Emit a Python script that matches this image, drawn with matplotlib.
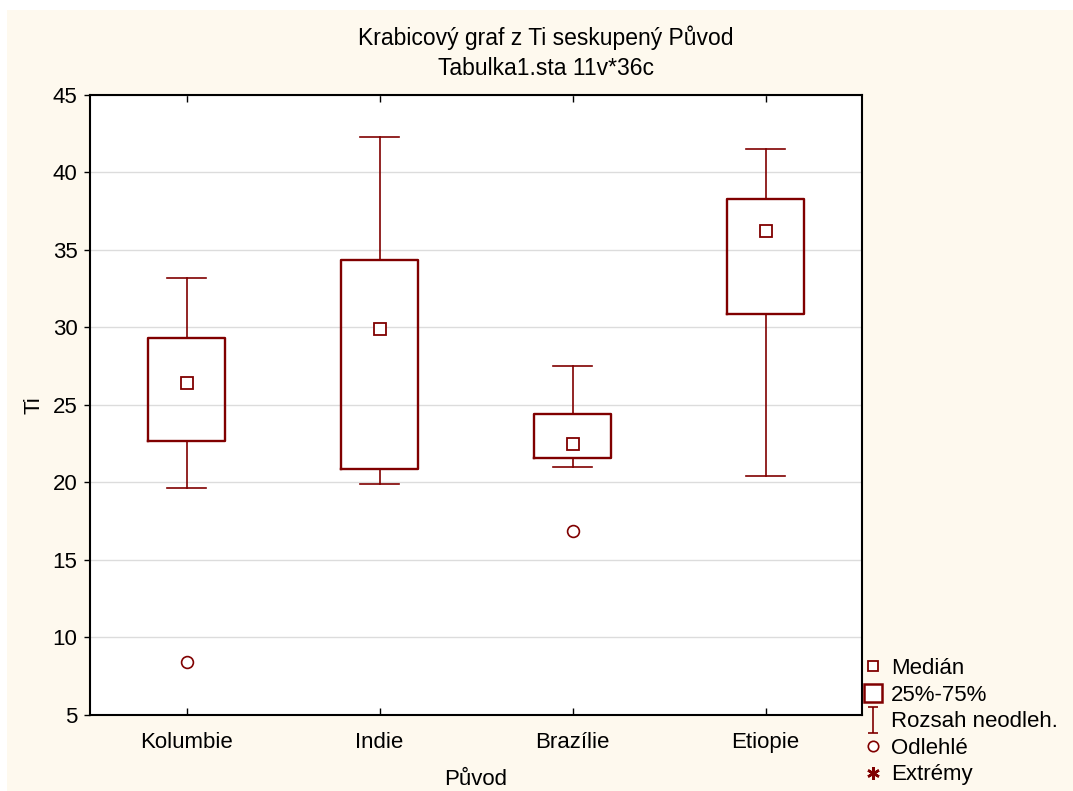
import matplotlib
matplotlib.use("Agg")
import matplotlib.pyplot as plt
from matplotlib.lines import Line2D
from matplotlib.patches import Rectangle
from matplotlib.path import Path

plt.rcParams['font.family'] = ['Liberation Sans', 'DejaVu Sans']

# Ti grouped by origin
categories = ["Kolumbie", "Indie", "Brazílie", "Etiopie"]
medians = [26.4, 29.9, 22.5, 36.2]
q1 = [22.7, 20.9, 21.6, 30.9]
q3 = [29.3, 34.35, 24.4, 38.3]
whisker_lo = [19.65, 19.9, 21.0, 20.4]
whisker_hi = [33.2, 42.3, 27.5, 41.5]
outliers = [[8.4], [], [16.9], []]
yticks = [5, 10, 15, 20, 25, 30, 35, 40, 45]

red = "#800000"
cream = "#FEF9EE"

fig = plt.figure(figsize=(10.73, 7.91), dpi=100)
fig.patch.set_facecolor("white")
fig.add_artist(Rectangle((7 / 1073, 0), 1 - 7 / 1073, 1 - 10 / 791,
                         transform=fig.transFigure, facecolor=cream,
                         edgecolor="none", zorder=-10))

ax = fig.add_axes([0.0839, 0.0961, 0.7195, 0.7838])
ax.set_facecolor("white")

stats = []
for i, name in enumerate(categories):
    stats.append(dict(label=name, med=medians[i], q1=q1[i], q3=q3[i],
                      whislo=whisker_lo[i], whishi=whisker_hi[i],
                      fliers=outliers[i]))

positions = [0.5 + i for i in range(len(categories))]
ax.bxp(stats, positions=positions, widths=0.4, showfliers=True,
       boxprops=dict(color=red, linewidth=1.7),
       whiskerprops=dict(color=red, linewidth=1.2),
       capprops=dict(color=red, linewidth=1.2),
       capwidths=0.2,
       medianprops=dict(linewidth=0),
       flierprops=dict(marker="o", markersize=8.5, markerfacecolor="white",
                       markeredgecolor=red, markeredgewidth=1.2),
       zorder=3)
ax.plot(positions, medians, linestyle="none", marker="s", markersize=8.5,
        markerfacecolor="white", markeredgecolor=red, markeredgewidth=1.3,
        zorder=4)

ax.set_xlim(0, len(categories))
ax.set_ylim(5, 45)
ax.set_yticks(yticks)
ax.set_xticks(positions)
ax.set_xticklabels(categories)
ax.grid(axis="y", color="#DCDCDC", linewidth=1)
ax.set_axisbelow(True)
ax.tick_params(axis="y", direction="out", length=4, width=1, labelsize=16,
               pad=5)
ax.tick_params(axis="x", direction="in", length=5, width=1, labelsize=16,
               pad=12, top=True)
for s in ax.spines.values():
    s.set_linewidth(1.5)
    s.set_color("black")

ax.set_xlabel("Původ", fontsize=16, labelpad=12)
ax.set_ylabel("Ti", fontsize=16, labelpad=6)

fig.text(0.5084, 0.952, "Krabicový graf z Ti seskupený Původ", ha="center",
         va="center", fontsize=16.5)
fig.text(0.5084, 0.914, "Tabulka1.sta 11v*36c", ha="center", va="center",
         fontsize=16.5)

# I-beam marker for the non-outlier range
ibeam = Path([(-0.4, 1), (0.4, 1), (0, 1), (0, -1), (-0.4, -1), (0.4, -1)],
             [Path.MOVETO, Path.LINETO, Path.MOVETO, Path.LINETO,
              Path.MOVETO, Path.LINETO])

handles = [
    Line2D([], [], linestyle="none", marker="s", markersize=7.5,
           markerfacecolor="white", markeredgecolor=red, markeredgewidth=1.3),
    Line2D([], [], linestyle="none", marker="s", markersize=13,
           markerfacecolor="white", markeredgecolor=red, markeredgewidth=1.8),
    Line2D([], [], linestyle="none", marker=ibeam, markersize=19,
           markerfacecolor="none", markeredgecolor=red, markeredgewidth=1.2),
    Line2D([], [], linestyle="none", marker="o", markersize=7.5,
           markerfacecolor="white", markeredgecolor=red, markeredgewidth=1.2),
    Line2D([], [], linestyle="none", marker=(6, 2, 0), markersize=9,
           markeredgecolor=red, markeredgewidth=1.8),
]
labels = ["Medián", "25%-75%", "Rozsah neodleh.", "Odlehlé", "Extrémy"]
leg = fig.legend(handles, labels, loc="upper left",
                 bbox_to_anchor=(861 / 1073, 1 - 656 / 791),
                 frameon=False, fontsize=16, handlelength=0.9,
                 handletextpad=0.35, labelspacing=0.25, borderaxespad=0,
                 borderpad=0.1)

fig.savefig("out.png", dpi=100, facecolor=fig.get_facecolor())
